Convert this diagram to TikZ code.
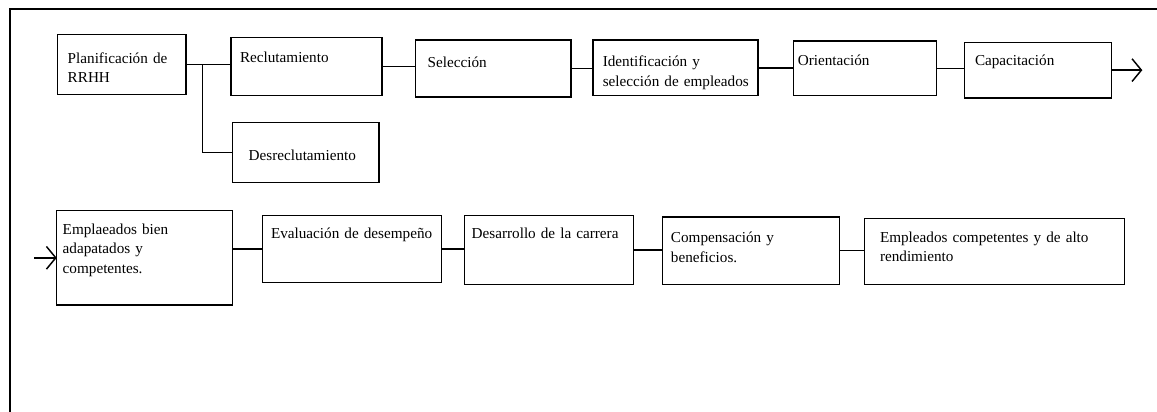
\documentclass[tikz,border=0pt]{standalone}
\usepackage{fontspec}
\setmainfont{Liberation Serif}
\usetikzlibrary{positioning,arrows.meta}

\begin{document}
\begin{tikzpicture}[
  font=\fontsize{11.4}{14.6}\selectfont,
  box/.style={draw, line width=1.1pt, align=left, inner ysep=0pt, outer sep=0pt, anchor=north west},
  link/.style={line width=1.1pt},
  arr/.style={-{Straight Barb[length=7pt, width=17pt]}, line width=1.1pt},
  frame/.style={line width=2.1pt}
]
\useasboundingbox (0,0) rectangle (867.75pt,-308.25pt);
\draw[frame] (7.5pt,-320pt) -- (7.5pt,-6.75pt) -- (880pt,-6.75pt);

% ---- first row ----
\node[box, inner xsep=7.5pt, text width=81.2pt, text height=21.75pt, text depth=23.25pt]
  (plan) at (43.3pt,-25.7pt) {Planificación de\\RRHH};
\node[box, inner xsep=6.75pt, text width=99.75pt, text height=18.75pt, text depth=25.05pt,
  right=33.75pt of plan.north east, anchor=north west, yshift=-2.25pt] (recl) {Reclutamiento};
\node[box, inner xsep=12.3pt, text width=85.4pt, text height=28.8pt, text depth=16.2pt,
  below=20pt of recl.south west, anchor=north west, xshift=1pt] (desr) {Desreclutamiento};
\node[box, inner xsep=9.3pt, text width=98.2pt, text height=20.8pt, text depth=21.95pt,
  right=25pt of recl.north east, anchor=north west, yshift=-2pt] (sele) {Selección};
\node[box, inner xsep=7.5pt, text width=108.75pt, text height=20pt, text depth=21.8pt,
  right=16.3pt of sele.north east, anchor=north west] (iden) {Identificación y\\\mbox{selección de empleados}};
\node[box, inner xsep=3.3pt, text width=100.9pt, text height=18.5pt, text depth=22.5pt,
  right=26.7pt of iden.north east, anchor=north west, yshift=-0.75pt] (orie) {Orientación};
\node[box, inner xsep=8pt, text width=94.5pt, text height=17.25pt, text depth=24.55pt,
  right=20.7pt of orie.north east, anchor=north west, yshift=-1pt] (capa) {Capacitación};
\coordinate[right=23pt of capa.east] (out);

% ---- second row ----
\node[box, inner xsep=4.5pt, text width=123pt, text height=17.7pt, text depth=53pt,
  below=87.3pt of plan.south west, anchor=north west, xshift=-0.75pt] (empl)
  {Emplaeados bien\\adapatados y\\competentes.};
\coordinate[left=16.8pt of empl.west] (in);
\node[box, inner xsep=6.5pt, text width=121.5pt, text height=17.25pt, text depth=33pt,
  right=22.2pt of empl.north east, anchor=north west, yshift=-3.75pt] (eval) {Evaluación de desempeño};
\node[box, inner xsep=5.5pt, text width=115.75pt, text height=17.25pt, text depth=34.25pt,
  right=17pt of eval.north east, anchor=north west] (desa) {Desarrollo de la carrera};
\node[box, inner xsep=6.2pt, text width=120.1pt, text height=19.3pt, text depth=31.2pt,
  right=22pt of desa.north east, anchor=north west, yshift=-1pt] (comp) {Compensación y\\beneficios.};
\node[box, inner xsep=11.5pt, text width=171.7pt, text height=18pt, text depth=31.5pt,
  right=19pt of comp.north east, anchor=north west, yshift=-1pt] (empc)
  {Empleados competentes y de alto\\rendimiento};

% ---- connectors ----
\draw[link] (plan.east) -- (plan.east -| recl.west);
\coordinate[right=12.5pt of plan.east] (fork);
\draw[link] (fork) |- (desr.west);
\draw[link] (recl.east) -- (recl.east -| sele.west);
\draw[link] (sele.east) -- (sele.east -| iden.west);
\draw[link] (iden.east) -- (iden.east -| orie.west);
\draw[link] (orie.east) -- (orie.east -| capa.west);
\draw[arr] (capa.east) -- (out);

\draw[arr] (in) -- (empl.west);
\draw[link] (eval.west -| empl.east) -- (eval.west);
\draw[link] (eval.east) -- (eval.east -| desa.west);
\draw[link] (desa.east) -- (desa.east -| comp.west);
\draw[link] (comp.east) -- (comp.east -| empc.west);
\end{tikzpicture}
\end{document}
